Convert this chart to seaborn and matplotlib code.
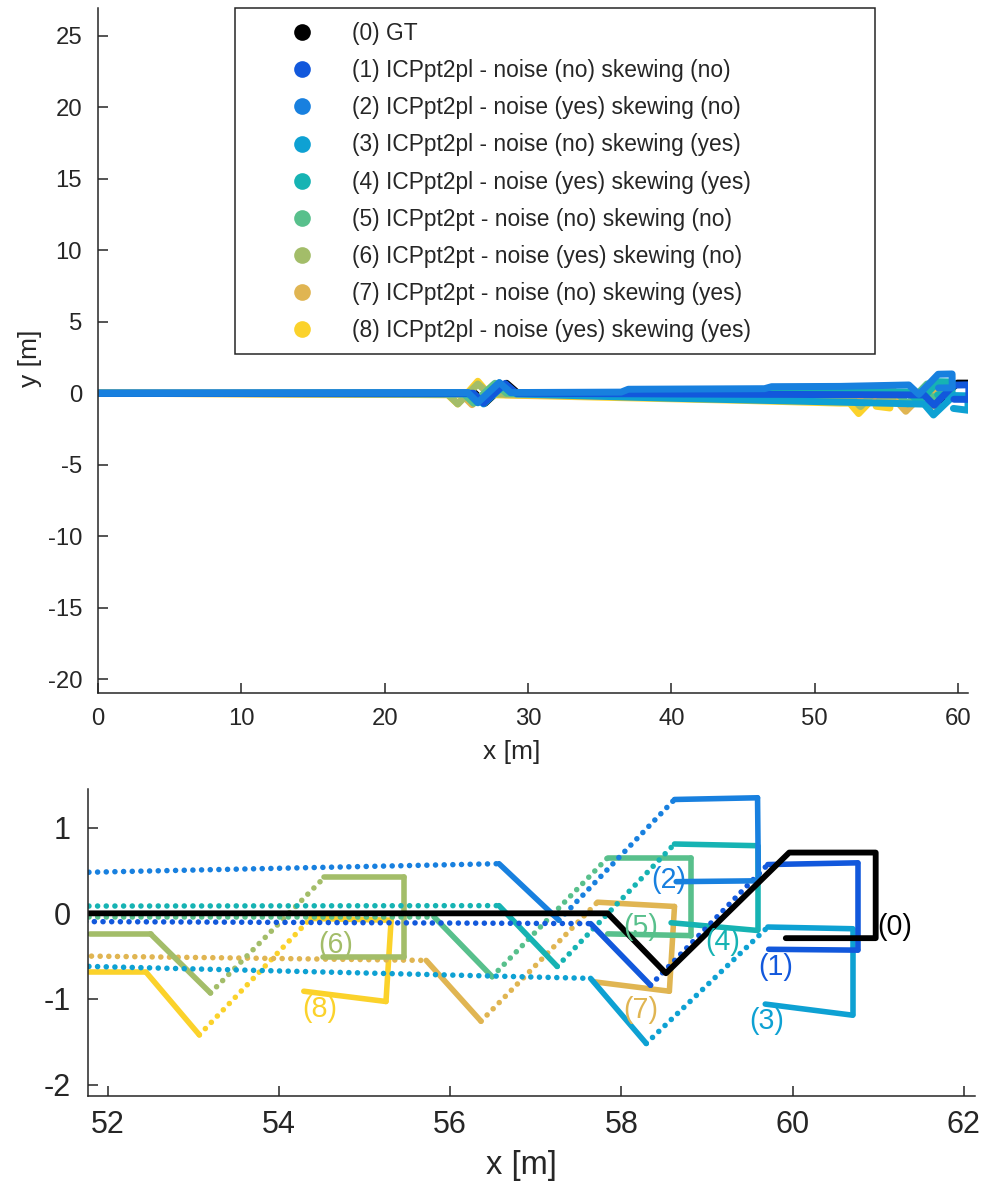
import numpy as np
import pandas as pd
import seaborn as sns
import matplotlib.pyplot as plt
from matplotlib.lines import Line2D
from matplotlib.patches import Rectangle

# trajectories (x, y in metres)
gt_x = [0, 26.3, 27.0, 28.5, 29.3, 57.84, 58.52, 59.96, 60.97, 60.97, 59.92]
gt_y = [0, 0.0, -0.70, 0.70, 0.0, 0.0, -0.70, 0.71, 0.71, -0.29, -0.29]

r1_x = [0, 26.2, 26.9, 28.4, 29.2, 40.0, 57.64, 58.34, 59.71, 60.76, 60.76, 59.72]
r1_y = [0, 0.0, -0.70, 0.68, 0.0, -0.05, -0.12, -0.84, 0.57, 0.59, -0.43, -0.42]

r2_x = [0, 25.8, 26.5, 28.0, 28.8, 36.5, 37.0, 46.5, 47.0, 51.78, 56.57, 57.27, 58.62, 59.59, 59.60, 58.64]
r2_y = [0, 0.05, -0.65, 0.75, 0.05, 0.08, 0.28, 0.32, 0.46, 0.48, 0.58, -0.08, 1.33, 1.35, 0.38, 0.37]

r3_x = [0, 26.2, 26.9, 28.4, 29.2, 40.0, 51.78, 57.64, 58.29, 59.71, 60.70, 60.70, 59.68]
r3_y = [0, -0.05, -0.75, 0.63, -0.05, -0.35, -0.62, -0.76, -1.52, -0.16, -0.18, -1.19, -1.06]

r4_x = [0, 25.8, 26.5, 28.0, 28.8, 51.78, 56.57, 57.25, 58.62, 59.59, 59.59, 58.58]
r4_y = [0, 0.03, -0.67, 0.73, 0.03, 0.085, 0.09, -0.62, 0.81, 0.79, -0.20, -0.11]

r5_x = [0, 25.5, 26.2, 27.7, 28.5, 51.78, 55.81, 56.49, 57.84, 58.81, 58.81, 57.84]
r5_y = [0, 0.0, -0.70, 0.70, 0.0, -0.04, -0.04, -0.74, 0.65, 0.65, -0.26, -0.24]

r6_x = [0, 24.4, 25.1, 26.5, 27.3, 51.79, 52.50, 53.20, 54.53, 55.46, 55.46, 54.51]
r6_y = [0, -0.05, -0.75, 0.65, -0.05, -0.24, -0.24, -0.93, 0.42, 0.42, -0.51, -0.51]

r7_x = [0, 25.4, 26.1, 27.6, 28.4, 51.81, 55.72, 56.36, 57.72, 58.62, 58.56, 57.68]
r7_y = [0, -0.10, -0.80, 0.60, -0.10, -0.50, -0.55, -1.26, 0.13, 0.08, -0.91, -0.80]

r8_x = [0, 24.4, 25.1, 26.5, 27.3, 45.0, 51.78, 52.45, 53.07, 54.37, 55.31, 55.25, 54.29]
r8_y = [0, -0.10, -0.75, 0.84, -0.10, -0.50, -0.69, -0.69, -1.42, -0.06, -0.08, -1.03, -0.91]

run_ids = ["(0)", "(1)", "(2)", "(3)", "(4)", "(5)", "(6)", "(7)", "(8)"]
legend_labels = [
    "(0) GT",
    "(1) ICPpt2pl - noise (no) skewing (no)",
    "(2) ICPpt2pl - noise (yes) skewing (no)",
    "(3) ICPpt2pl - noise (no) skewing (yes)",
    "(4) ICPpt2pl - noise (yes) skewing (yes)",
    "(5) ICPpt2pt - noise (no) skewing (no)",
    "(6) ICPpt2pt - noise (yes) skewing (no)",
    "(7) ICPpt2pt - noise (no) skewing (yes)",
    "(8) ICPpt2pl - noise (yes) skewing (yes)",
]
# label positions in the zoomed panel
lab_x = [61.19, 59.80, 58.55, 59.70, 59.18, 58.23, 54.66, 58.23, 54.48]
lab_y = [-0.16, -0.63, 0.385, -1.26, -0.335, -0.16, -0.37, -1.13, -1.12]

colors = ["#000000", "#1258dc", "#1880df", "#0ea1d3", "#16b3b3",
          "#58c08c", "#a3bd69", "#e0b552", "#fbd22b"]
pal = dict(zip(run_ids, colors))

xs = [gt_x, r1_x, r2_x, r3_x, r4_x, r5_x, r6_x, r7_x, r8_x]
ys = [gt_y, r1_y, r2_y, r3_y, r4_y, r5_y, r6_y, r7_y, r8_y]

pts = pd.concat([pd.DataFrame({"x": x, "y": y, "run": r}) for r, x, y in zip(run_ids, xs, ys)],
                ignore_index=True)

# split estimates into segments; long (fast) segments look dotted
rows = []
seg = 0
for r, x, y in zip(run_ids[1:], xs[1:], ys[1:]):
    for i in range(len(x) - 1):
        kind = "sparse" if np.hypot(x[i + 1] - x[i], y[i + 1] - y[i]) > 1.3 else "solid"
        rows.append((r, seg, kind, x[i], y[i]))
        rows.append((r, seg, kind, x[i + 1], y[i + 1]))
        seg += 1
segs = pd.DataFrame(rows, columns=["run", "seg", "kind", "x", "y"])

sns.set_style("ticks")
plt.rcParams["font.family"] = ["Liberation Sans", "DejaVu Sans"]
ink = "#262626"
plt.rcParams.update({"axes.edgecolor": ink, "xtick.color": ink, "ytick.color": ink,
                     "axes.labelcolor": ink, "text.color": ink, "axes.linewidth": 1.1,
                     "axes.unicode_minus": False})

fig = plt.figure(figsize=(9.81, 11.87), dpi=100)
W, H = 981, 1187
ax1 = fig.add_axes([98 / W, 1 - 693 / H, 870 / W, 685 / H])
ax2 = fig.add_axes([88.3 / W, 1 - 1096 / H, 886.7 / W, 306.7 / H])

# top: whole run
top_order = ["(0)", "(8)", "(7)", "(6)", "(5)", "(4)", "(3)", "(1)", "(2)"]
sns.lineplot(data=pts, x="x", y="y", hue="run", hue_order=top_order, palette=pal,
             units="run", estimator=None, sort=False, linewidth=5,
             solid_capstyle="round", solid_joinstyle="round", legend=False, ax=ax1)
ax1.set_xlim(0, 60.7)
ax1.set_ylim(-20.96, 26.94)
ax1.set_xticks(range(0, 61, 10))
ax1.set_yticks(range(-20, 26, 5))
ax1.tick_params(direction="in", length=7, width=1.1, labelsize=17.2)
ax1.tick_params(axis="x", pad=10.5)
ax1.tick_params(axis="y", pad=11.5)
ax1.set_xlabel("x [m]", fontsize=19)
ax1.set_ylabel("y [m]", fontsize=19)
ax1.xaxis.label.set_va("center")
ax1.yaxis.label.set_va("center")
ax1.xaxis.set_label_coords(0.476, -0.086)
ax1.yaxis.set_label_coords(-0.078, 0.489)
sns.despine(ax=ax1)

handles = [Line2D([], [], ls="none", marker="o", ms=12, color=c, mec="none") for c in colors]
ax1.legend(handles, legend_labels, loc="upper left", bbox_to_anchor=(235 / W, 1 - 8 / H),
           bbox_transform=fig.transFigure, frameon=False, fontsize=16.4,
           handlelength=4.6, handletextpad=-0.1, borderpad=0.62, labelspacing=0.62,
           borderaxespad=0)
fig.patches.append(Rectangle((235 / W, 1 - 354 / H), 640 / W, 346 / H, transform=fig.transFigure,
                             fill=False, edgecolor=ink, lw=1.1, zorder=5))

# bottom: zoom on the end of the run
bottom_order = ["(8)", "(7)", "(6)", "(5)", "(4)", "(3)", "(1)", "(2)"]
sns.lineplot(data=segs, x="x", y="y", hue="run", hue_order=bottom_order, palette=pal,
             units="seg", estimator=None, sort=False, style="kind",
             style_order=["solid", "sparse"], dashes={"solid": "", "sparse": (0.01, 1.55)},
             linewidth=4.0, dash_capstyle="round", solid_capstyle="round", legend=False, ax=ax2)
sns.lineplot(x=gt_x, y=gt_y, sort=False, estimator=None, color="black", linewidth=4.2,
             ax=ax2)
for r, tx, ty in zip(run_ids, lab_x, lab_y):
    ax2.text(tx, ty, r, color=pal[r], fontsize=20.6, ha="center", va="center")
ax2.set_xlim(51.773, 62.13)
ax2.set_ylim(-2.134, 1.449)
ax2.set_xticks(range(52, 63, 2))
ax2.set_yticks([-2, -1, 0, 1])
ax2.tick_params(direction="in", length=7, width=1.1, labelsize=22)
ax2.tick_params(axis="x", pad=10)
ax2.tick_params(axis="y", pad=12.5)
ax2.set_xlabel("x [m]", fontsize=23.5)
ax2.set_ylabel("")
ax2.xaxis.label.set_va("center")
ax2.xaxis.set_label_coords(0.489, -0.225)
sns.despine(ax=ax2)

plt.savefig("out.png", dpi=100)
